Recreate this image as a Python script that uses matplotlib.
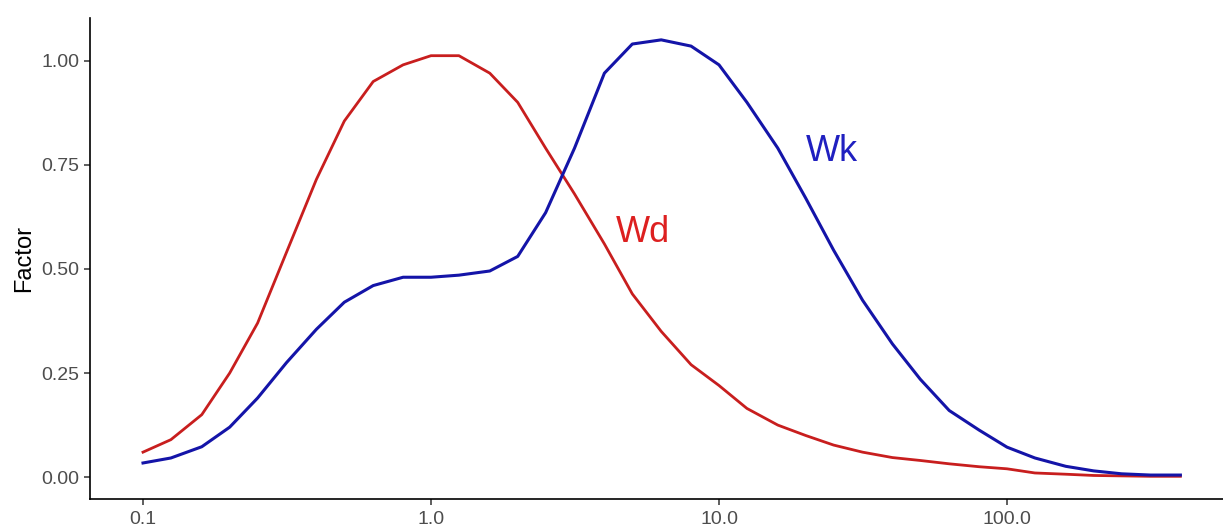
import matplotlib
matplotlib.use('Agg')
import matplotlib.pyplot as plt
import numpy as np

plt.rcParams['font.family'] = ['Liberation Sans', 'DejaVu Sans']

# one-third octave band centre frequencies (Hz)
freq = [0.1, 0.125, 0.16, 0.2, 0.25, 0.315, 0.4, 0.5, 0.63, 0.8,
        1.0, 1.25, 1.6, 2.0, 2.5, 3.15, 4.0, 5.0, 6.3, 8.0,
        10.0, 12.5, 16.0, 20.0, 25.0, 31.5, 40.0, 50.0, 63.0, 80.0,
        100.0, 125.0, 160.0, 200.0, 250.0, 315.0, 400.0]

# weighting factors
wd = [0.06, 0.09, 0.15, 0.25, 0.37, 0.54, 0.715, 0.855, 0.95, 0.99,
      1.012, 1.012, 0.97, 0.90, 0.79, 0.68, 0.56, 0.44, 0.35, 0.27,
      0.22, 0.165, 0.125, 0.10, 0.077, 0.06, 0.047, 0.04, 0.032, 0.025,
      0.02, 0.01, 0.007, 0.004, 0.003, 0.002, 0.002]
wk = [0.034, 0.046, 0.073, 0.12, 0.19, 0.275, 0.355, 0.42, 0.46, 0.48,
      0.48, 0.485, 0.495, 0.53, 0.635, 0.79, 0.97, 1.04, 1.05, 1.035,
      0.99, 0.90, 0.79, 0.67, 0.545, 0.425, 0.32, 0.235, 0.16, 0.113,
      0.072, 0.046, 0.026, 0.015, 0.008, 0.005, 0.005]

fig = plt.figure(figsize=(12.23, 5.29), dpi=100)
ax = fig.add_axes([90 / 1223, 1 - 499 / 529, 1 - 90 / 1223, (499 - 18) / 529])

ax.plot(freq, wd, color='#c81e1e', lw=2.0)
ax.plot(freq, wk, color='#1414a8', lw=2.2)

ax.text(4.4, 0.564, 'Wd', color='#dd2020', fontsize=26, va='baseline')
ax.text(20.0, 0.759, 'Wk', color='#2020c0', fontsize=26, va='baseline')

ax.set_xscale('log')
ax.set_xlim(10 ** (-1 - 53 / 288), 10 ** (-1 + 1080 / 288))
ax.set_ylim(-0.0525, 1.1025)
ax.set_xticks([0.1, 1, 10, 100])
ax.set_xticklabels(['0.1', '1.0', '10.0', '100.0'])
ax.minorticks_off()
ax.set_yticks([0, 0.25, 0.5, 0.75, 1.0])
ax.set_yticklabels(['0.00', '0.25', '0.50', '0.75', '1.00'])
ax.set_ylabel('Factor', fontsize=17, color='black', labelpad=5)

for s in ['top', 'right']:
    ax.spines[s].set_visible(False)
for s in ['left', 'bottom']:
    ax.spines[s].set_linewidth(1.2)
ax.tick_params(labelsize=14, labelcolor='#4d4d4d', length=4.5, width=1.1,
               color='#333333', pad=3)
ax.tick_params(axis='x', pad=4)

fig.savefig('out.png', dpi=100)
